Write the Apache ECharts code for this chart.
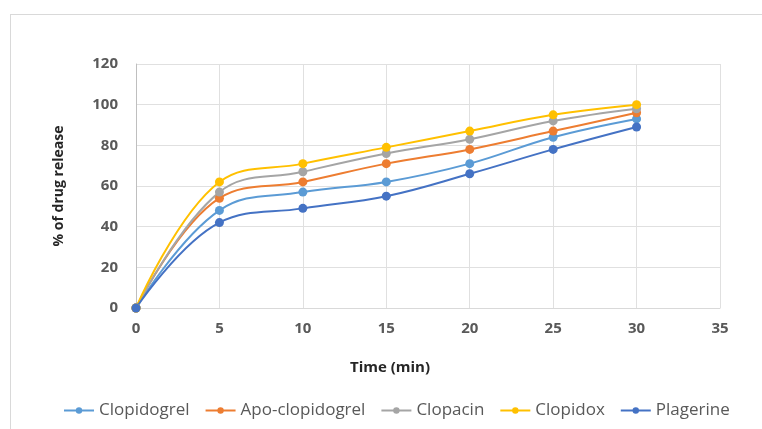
<!DOCTYPE html>
<html>
<head>
<meta charset="utf-8">
<script src="https://cdn.jsdelivr.net/npm/echarts@6/dist/echarts.min.js"></script>
<style>
  html, body { margin: 0; padding: 0; background: #fff; }
  #frame { position: absolute; left: 10px; top: 14px; width: 760px; height: 420px;
           border-left: 1px solid #d9d9d9; border-top: 1px solid #d9d9d9; }
  #chart { position: absolute; left: 0; top: 0; width: 762px; height: 429px; }
</style>
</head>
<body>
<div id="frame"></div>
<div id="chart"></div>
<script>
// time points (min)
const times = [0, 5, 10, 15, 20, 25, 30];
const clopidogrel = [0, 48, 57, 62, 71, 84, 93];
const apoClopidogrel = [0, 54, 62, 71, 78, 87, 96];
const clopacin = [0, 57, 67, 76, 83, 92, 98];
const clopidox = [0, 62, 71, 79, 87, 95, 100];
const plagerine = [0, 42, 49, 55, 66, 78, 89];

const seriesDefs = [
  { name: 'Clopidogrel', data: clopidogrel, color: '#5B9BD5' },
  { name: 'Apo-clopidogrel', data: apoClopidogrel, color: '#ED7D31' },
  { name: 'Clopacin', data: clopacin, color: '#A5A5A5' },
  { name: 'Clopidox', data: clopidox, color: '#FFC000' },
  { name: 'Plagerine', data: plagerine, color: '#4472C4' }
];

const chart = echarts.init(document.getElementById('chart'));
const font = '"Open Sans", "Noto Sans", sans-serif';

const option = {
  animation: false,
  textStyle: { fontFamily: font },
  grid: { left: 136, right: 42, top: 64, bottom: 121 },
  legend: {
    bottom: 5,
    left: 58,
    itemWidth: 30,
    itemHeight: 8,
    itemGap: 15,
    textStyle: { color: '#595959', fontSize: 17, fontFamily: font },
    data: seriesDefs.map(s => s.name)
  },
  xAxis: {
    type: 'value',
    min: 0,
    max: 35,
    interval: 5,
    name: 'Time (min)',
    nameLocation: 'middle',
    nameGap: 52,
    nameTextStyle: { color: '#262626', fontSize: 15, fontWeight: 'bold', fontFamily: font, padding: [0, 76, 0, 0] },
    axisLine: { show: true, lineStyle: { color: '#d9d9d9' } },
    axisTick: { show: false },
    axisLabel: { color: '#595959', fontSize: 15, fontWeight: 'bold', margin: 13 },
    splitLine: { show: true, lineStyle: { color: '#e0e0e0' } }
  },
  yAxis: {
    type: 'value',
    min: 0,
    max: 120,
    interval: 20,
    name: '% of drug release',
    nameLocation: 'middle',
    nameGap: 70,
    nameTextStyle: { color: '#262626', fontSize: 14, fontWeight: 'bold', fontFamily: font },
    axisLine: { show: true, lineStyle: { color: '#bfbfbf' } },
    axisTick: { show: false },
    axisLabel: { color: '#595959', fontSize: 15, fontWeight: 'bold', margin: 18 },
    splitLine: { show: true, lineStyle: { color: '#e0e0e0' } }
  },
  series: seriesDefs.map(s => ({
    name: s.name,
    type: 'line',
    smooth: 0.4,
    symbol: 'circle',
    symbolSize: 9,
    itemStyle: { color: s.color },
    lineStyle: { color: s.color, width: 2 },
    data: times.map((t, i) => [t, s.data[i]])
  }))
};

chart.setOption(option);
</script>
</body>
</html>
